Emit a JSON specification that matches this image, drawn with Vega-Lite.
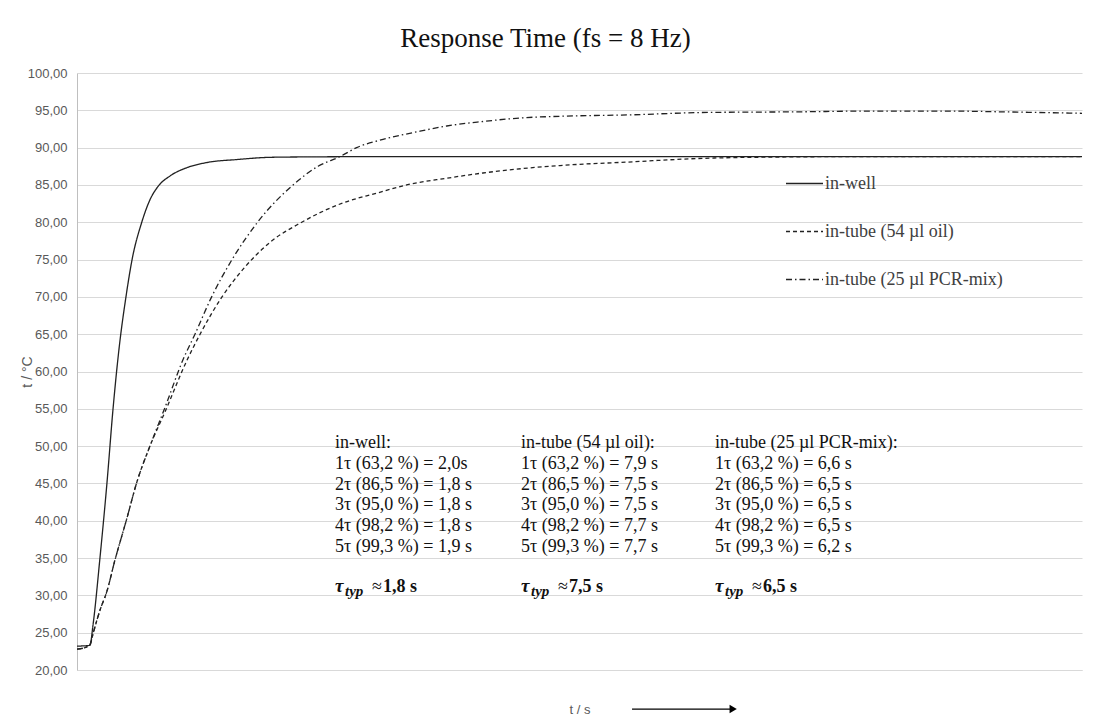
{
  "$schema": "https://vega.github.io/schema/vega-lite/v6.json",
  "autosize": {"type": "none"},
  "padding": {"left": 77, "top": 73, "right": 12, "bottom": 54},
  "width": 1005,
  "height": 597,
  "background": "white",
  "config": {"view": {"stroke": null}},
  "title": {
    "text": "Response Time (fs = 8 Hz)",
    "font": "Liberation Serif",
    "fontSize": 27,
    "fontWeight": "normal",
    "color": "#111111",
    "anchor": "middle",
    "baseline": "alphabetic",
    "offset": -7,
    "dx": -34
  },
  "datasets": {
    "curves": [
      {"s": "in-well", "t": 0, "v": 23.2},
      {"s": "in-well", "t": 0.76, "v": 23.3},
      {"s": "in-well", "t": 0.94, "v": 26},
      {"s": "in-well", "t": 1.35, "v": 35},
      {"s": "in-well", "t": 1.76, "v": 45},
      {"s": "in-well", "t": 2.12, "v": 55},
      {"s": "in-well", "t": 2.47, "v": 63},
      {"s": "in-well", "t": 2.88, "v": 70},
      {"s": "in-well", "t": 3.24, "v": 75},
      {"s": "in-well", "t": 3.81, "v": 80},
      {"s": "in-well", "t": 4.29, "v": 83},
      {"s": "in-well", "t": 4.84, "v": 85},
      {"s": "in-well", "t": 5.47, "v": 86.2},
      {"s": "in-well", "t": 6.45, "v": 87.3},
      {"s": "in-well", "t": 7.63, "v": 88},
      {"s": "in-well", "t": 9.39, "v": 88.4},
      {"s": "in-well", "t": 11.35, "v": 88.7},
      {"s": "in-well", "t": 13.12, "v": 88.75},
      {"s": "in-well", "t": 19.0, "v": 88.8},
      {"s": "in-well", "t": 24.9, "v": 88.8},
      {"s": "in-well", "t": 36.6, "v": 88.8},
      {"s": "in-well", "t": 48.4, "v": 88.8},
      {"s": "in-well", "t": 59.12, "v": 88.8},
      {"s": "in-tube (54 µl oil)", "t": 0, "v": 22.8},
      {"s": "in-tube (54 µl oil)", "t": 0.47, "v": 23.0},
      {"s": "in-tube (54 µl oil)", "t": 0.76, "v": 23.4},
      {"s": "in-tube (54 µl oil)", "t": 0.96, "v": 25},
      {"s": "in-tube (54 µl oil)", "t": 1.35, "v": 28},
      {"s": "in-tube (54 µl oil)", "t": 1.74, "v": 30.4},
      {"s": "in-tube (54 µl oil)", "t": 2.24, "v": 34.8},
      {"s": "in-tube (54 µl oil)", "t": 2.92, "v": 40.2},
      {"s": "in-tube (54 µl oil)", "t": 3.51, "v": 45.1},
      {"s": "in-tube (54 µl oil)", "t": 4.29, "v": 50},
      {"s": "in-tube (54 µl oil)", "t": 5.18, "v": 54.6},
      {"s": "in-tube (54 µl oil)", "t": 6.47, "v": 61.5},
      {"s": "in-tube (54 µl oil)", "t": 7.24, "v": 65},
      {"s": "in-tube (54 µl oil)", "t": 8.53, "v": 70},
      {"s": "in-tube (54 µl oil)", "t": 9.88, "v": 74},
      {"s": "in-tube (54 µl oil)", "t": 11.35, "v": 77.3},
      {"s": "in-tube (54 µl oil)", "t": 13.22, "v": 80},
      {"s": "in-tube (54 µl oil)", "t": 15.65, "v": 82.6},
      {"s": "in-tube (54 µl oil)", "t": 17.63, "v": 83.9},
      {"s": "in-tube (54 µl oil)", "t": 19.39, "v": 85},
      {"s": "in-tube (54 µl oil)", "t": 21.75, "v": 85.9},
      {"s": "in-tube (54 µl oil)", "t": 23.88, "v": 86.6},
      {"s": "in-tube (54 µl oil)", "t": 26.24, "v": 87.2},
      {"s": "in-tube (54 µl oil)", "t": 28.41, "v": 87.6},
      {"s": "in-tube (54 µl oil)", "t": 32.71, "v": 88.1},
      {"s": "in-tube (54 µl oil)", "t": 36.06, "v": 88.5},
      {"s": "in-tube (54 µl oil)", "t": 39.59, "v": 88.7},
      {"s": "in-tube (54 µl oil)", "t": 46.65, "v": 88.8},
      {"s": "in-tube (54 µl oil)", "t": 59.12, "v": 88.8},
      {"s": "in-tube (25 µl PCR-mix)", "t": 0, "v": 22.8},
      {"s": "in-tube (25 µl PCR-mix)", "t": 0.47, "v": 23.0},
      {"s": "in-tube (25 µl PCR-mix)", "t": 0.76, "v": 23.4},
      {"s": "in-tube (25 µl PCR-mix)", "t": 0.96, "v": 25},
      {"s": "in-tube (25 µl PCR-mix)", "t": 1.35, "v": 28},
      {"s": "in-tube (25 µl PCR-mix)", "t": 1.74, "v": 30.4},
      {"s": "in-tube (25 µl PCR-mix)", "t": 2.24, "v": 34.8},
      {"s": "in-tube (25 µl PCR-mix)", "t": 2.92, "v": 40.2},
      {"s": "in-tube (25 µl PCR-mix)", "t": 3.51, "v": 45.1},
      {"s": "in-tube (25 µl PCR-mix)", "t": 4.29, "v": 50},
      {"s": "in-tube (25 µl PCR-mix)", "t": 5.18, "v": 55.2},
      {"s": "in-tube (25 µl PCR-mix)", "t": 6.24, "v": 61.6},
      {"s": "in-tube (25 µl PCR-mix)", "t": 6.94, "v": 65},
      {"s": "in-tube (25 µl PCR-mix)", "t": 7.92, "v": 70},
      {"s": "in-tube (25 µl PCR-mix)", "t": 9.12, "v": 75},
      {"s": "in-tube (25 µl PCR-mix)", "t": 10.62, "v": 80},
      {"s": "in-tube (25 µl PCR-mix)", "t": 12.71, "v": 85},
      {"s": "in-tube (25 µl PCR-mix)", "t": 14.18, "v": 87.5},
      {"s": "in-tube (25 µl PCR-mix)", "t": 15.47, "v": 88.8},
      {"s": "in-tube (25 µl PCR-mix)", "t": 16.45, "v": 90},
      {"s": "in-tube (25 µl PCR-mix)", "t": 18.0, "v": 91.1},
      {"s": "in-tube (25 µl PCR-mix)", "t": 20.18, "v": 92.2},
      {"s": "in-tube (25 µl PCR-mix)", "t": 21.75, "v": 92.9},
      {"s": "in-tube (25 µl PCR-mix)", "t": 23.88, "v": 93.5},
      {"s": "in-tube (25 µl PCR-mix)", "t": 26.24, "v": 94.0},
      {"s": "in-tube (25 µl PCR-mix)", "t": 28.41, "v": 94.2},
      {"s": "in-tube (25 µl PCR-mix)", "t": 32.71, "v": 94.4},
      {"s": "in-tube (25 µl PCR-mix)", "t": 36.65, "v": 94.7},
      {"s": "in-tube (25 µl PCR-mix)", "t": 42.53, "v": 94.8},
      {"s": "in-tube (25 µl PCR-mix)", "t": 46.65, "v": 94.9},
      {"s": "in-tube (25 µl PCR-mix)", "t": 51.35, "v": 94.9},
      {"s": "in-tube (25 µl PCR-mix)", "t": 54.29, "v": 94.8},
      {"s": "in-tube (25 µl PCR-mix)", "t": 59.12, "v": 94.6}
    ],
    "notes": [
      {"t": 15.18, "v": 49.7, "txt": "in-well:\n1τ (63,2 %) = 2,0s\n2τ (86,5 %) = 1,8 s\n3τ (95,0 %) = 1,8 s\n4τ (98,2 %) = 1,8 s\n5τ (99,3 %) = 1,9 s"},
      {"t": 26.12, "v": 49.7, "txt": "in-tube (54 µl oil):\n1τ (63,2 %) = 7,9 s\n2τ (86,5 %) = 7,5 s\n3τ (95,0 %) = 7,5 s\n4τ (98,2 %) = 7,7 s\n5τ (99,3 %) = 7,7 s"},
      {"t": 37.53, "v": 49.7, "txt": "in-tube (25 µl PCR-mix):\n1τ (63,2 %) = 6,6 s\n2τ (86,5 %) = 6,5 s\n3τ (95,0 %) = 6,5 s\n4τ (98,2 %) = 6,5 s\n5τ (99,3 %) = 6,2 s"}
    ],
    "taus": [
      {"t": 15.18, "v": 30.4, "sym": "τ", "sub": "typ", "approx": "≈", "val": "1,8 s"},
      {"t": 26.12, "v": 30.4, "sym": "τ", "sub": "typ", "approx": "≈", "val": "7,5 s"},
      {"t": 37.53, "v": 30.4, "sym": "τ", "sub": "typ", "approx": "≈", "val": "6,5 s"}
    ],
    "arrow": [
      {"t": 32.65, "t2": 38.6, "v": 14.77}
    ]
  },
  "encoding": {
    "x": {
      "field": "t",
      "type": "quantitative",
      "scale": {"domain": [0, 59.12], "nice": false, "zero": false},
      "axis": {
        "title": "t / s",
        "labels": false,
        "ticks": false,
        "grid": false,
        "domain": true,
        "domainColor": "#d9d9d9",
        "titleFont": "Liberation Sans",
        "titleFontSize": 13,
        "titleFontWeight": "normal",
        "titleColor": "#595959",
        "titleY": 39,
        "titleBaseline": "middle"
      }
    },
    "y": {
      "field": "v",
      "type": "quantitative",
      "scale": {"domain": [20, 100], "nice": false, "zero": false},
      "axis": {
        "title": "t / °C",
        "values": [20, 25, 30, 35, 40, 45, 50, 55, 60, 65, 70, 75, 80, 85, 90, 95, 100],
        "labelExpr": "replace(format(datum.value, '.2f'), '.', ',')",
        "ticks": false,
        "grid": true,
        "gridColor": "#d9d9d9",
        "gridWidth": 1,
        "domainColor": "#bfbfbf",
        "labelFont": "Liberation Sans",
        "labelFontSize": 13,
        "labelColor": "#595959",
        "labelPadding": 10,
        "titleFont": "Liberation Sans",
        "titleFontSize": 14,
        "titleFontWeight": "normal",
        "titleColor": "#595959",
        "titleAngle": 270,
        "titleX": -50,
        "titleY": 298.5,
        "titleAlign": "center",
        "titleBaseline": "middle"
      }
    }
  },
  "layer": [
    {
      "data": {"name": "curves"},
      "mark": {"type": "line", "color": "#222222", "strokeWidth": 1.3, "interpolate": "monotone"},
      "encoding": {
        "strokeDash": {
          "field": "s",
          "type": "nominal",
          "scale": {
            "domain": ["in-well", "in-tube (54 µl oil)", "in-tube (25 µl PCR-mix)"],
            "range": [[1, 0], [4, 3], [6, 3, 1.5, 3]]
          },
          "legend": {
            "title": null,
            "orient": "none",
            "legendX": 708,
            "legendY": 91,
            "padding": 0,
            "symbolType": "stroke",
            "symbolSize": 1369,
            "symbolStrokeWidth": 1.3,
            "symbolStrokeColor": "#222222",
            "labelFont": "Liberation Serif",
            "labelFontSize": 18,
            "labelColor": "#404040",
            "labelOffset": 1,
            "rowPadding": 19,
            "labelLimit": 400
          }
        }
      }
    },
    {
      "data": {"name": "notes"},
      "mark": {"type": "text", "align": "left", "baseline": "alphabetic", "lineBreak": "\n", "lineHeight": 20.7, "font": "Liberation Serif", "fontSize": 18, "color": "#111111"},
      "encoding": {"text": {"field": "txt"}}
    },
    {
      "data": {"name": "taus"},
      "mark": {"type": "text", "align": "left", "baseline": "alphabetic", "font": "Liberation Serif", "fontSize": 19, "fontWeight": "bold", "fontStyle": "italic", "color": "#111111"},
      "encoding": {"text": {"field": "sym"}}
    },
    {
      "data": {"name": "taus"},
      "mark": {"type": "text", "align": "left", "baseline": "alphabetic", "dx": 10, "dy": 4, "font": "Liberation Serif", "fontSize": 15, "fontWeight": "bold", "fontStyle": "italic", "color": "#111111"},
      "encoding": {"text": {"field": "sub"}}
    },
    {
      "data": {"name": "taus"},
      "mark": {"type": "text", "align": "left", "baseline": "alphabetic", "dx": 37, "font": "Liberation Serif", "fontSize": 18, "color": "#111111"},
      "encoding": {"text": {"field": "approx"}}
    },
    {
      "data": {"name": "taus"},
      "mark": {"type": "text", "align": "left", "baseline": "alphabetic", "dx": 48, "font": "Liberation Serif", "fontSize": 18, "fontWeight": "bold", "color": "#111111"},
      "encoding": {"text": {"field": "val"}}
    },
    {
      "data": {"name": "arrow"},
      "mark": {"type": "rule", "color": "#000000", "strokeWidth": 1.3},
      "encoding": {"x2": {"field": "t2"}}
    },
    {
      "data": {"name": "arrow"},
      "mark": {"type": "point", "shape": "triangle-right", "filled": true, "color": "#000000", "size": 70, "opacity": 1},
      "encoding": {"x": {"field": "t2", "type": "quantitative"}}
    }
  ]
}
